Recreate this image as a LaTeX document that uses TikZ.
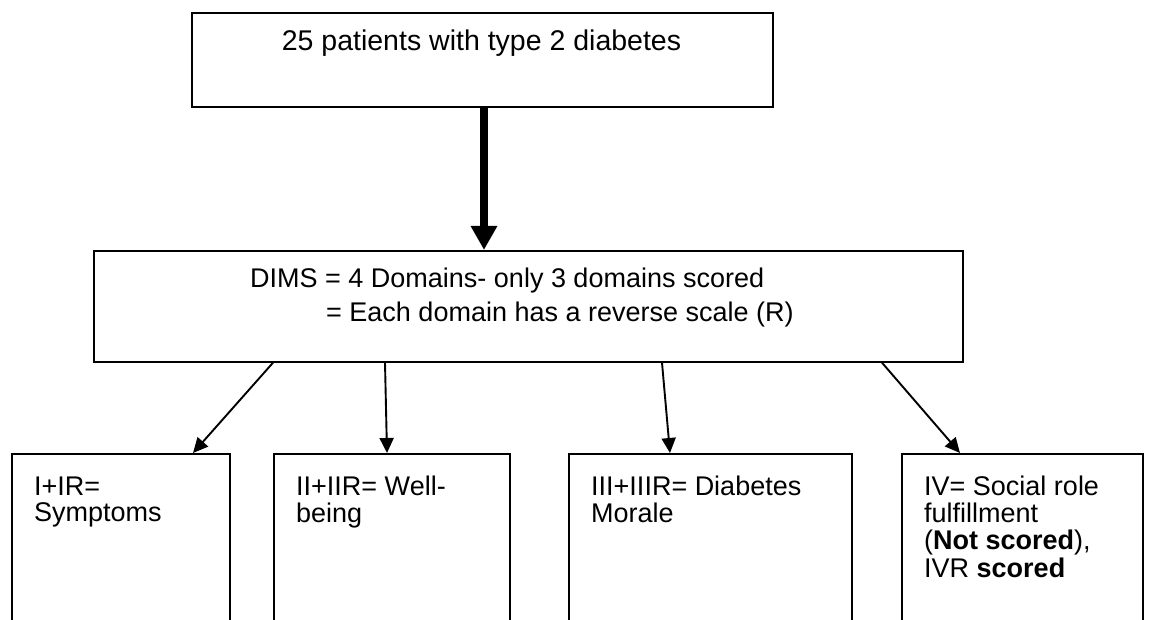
\documentclass[tikz,border=0pt]{standalone}
\usepackage{fontspec}
\setmainfont{Liberation Sans}
\usetikzlibrary{arrows.meta}
\begin{document}
\begin{tikzpicture}[x=1pt,y=-1pt,
  box/.style={draw, line width=1.7pt, inner sep=0pt, anchor=north west},
  lbl/.style={font=\fontsize{27}{26}\selectfont, inner sep=0pt, anchor=base west},
  link/.style={line width=1.9pt, -{Triangle[length=15pt,width=14pt]}},
  mainlink/.style={line width=7.5pt, -{Triangle[length=24pt,width=25pt]}}]
\useasboundingbox (0,0) rectangle (1152,620);
\clip (0,0) rectangle (1152,620);

% boxes
\node[box, minimum width=581pt, minimum height=94pt] (top) at (191,12) {};
\node[box, minimum width=869pt, minimum height=111pt] (dims) at (93,250) {};
\node[box, minimum width=218pt, minimum height=200pt] (b1) at (11,453) {};
\node[box, minimum width=236pt, minimum height=200pt] (b2) at (273,453) {};
\node[box, minimum width=283pt, minimum height=200pt] (b3) at (568,453) {};
\node[box, minimum width=241pt, minimum height=200pt] (b4) at (901,453) {};

% texts (first baseline at the given point)
\node[lbl, anchor=base, font=\fontsize{28.5}{26}\selectfont] (ttop) at (481.5,51) {25 patients with type 2 diabetes};
\node[lbl] (td1) at (250,288) {DIMS = 4 Domains- only 3 domains scored};
\node[lbl] (td2) at (326,322) {= Each domain has a reverse scale (R)};
\node[lbl] (t1) at (34,495) {\begin{tabular}[t]{@{}l@{}}I+IR=\\Symptoms\end{tabular}};
\node[lbl] (t2) at (296,495) {\begin{tabular}[t]{@{}l@{}}II+IIR= Well-\\being\end{tabular}};
\node[lbl] (t3) at (591,495) {\begin{tabular}[t]{@{}l@{}}III+IIIR= Diabetes\\Morale\end{tabular}};
\node[lbl] (t4) at (924,495) {\begin{tabular}[t]{@{}l@{}}IV= Social role\\fulfillment\\(\textbf{Not scored}),\\IVR \textbf{scored}\end{tabular}};

% connectors
\draw[mainlink] ([xshift=293pt]top.south west) -- ([xshift=391pt]dims.north west);
\draw[link] ([xshift=180pt]dims.south west) -- ([xshift=182pt]b1.north west);
\draw[link] ([xshift=292pt]dims.south west) -- ([xshift=114pt]b2.north west);
\draw[link] ([xshift=569pt]dims.south west) -- ([xshift=102pt]b3.north west);
\draw[link] ([xshift=789pt]dims.south west) -- ([xshift=59pt]b4.north west);
\end{tikzpicture}
\end{document}
